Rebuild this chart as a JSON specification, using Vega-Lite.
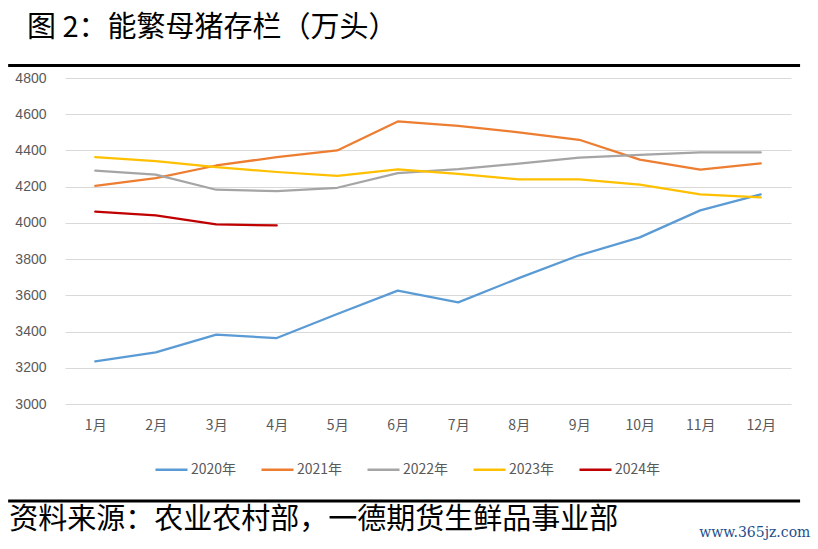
{
  "$schema": "https://vega.github.io/schema/vega-lite/v6.json",
  "width": 726,
  "height": 326,
  "autosize": {"type": "none"},
  "padding": {"left": 65, "top": 78, "right": 27, "bottom": 145},
  "background": "white",
  "title": {
    "text": "图 2：能繁母猪存栏（万头）",
    "anchor": "start",
    "frame": "group",
    "font": "Noto Sans CJK SC",
    "fontSize": 29,
    "fontWeight": "normal",
    "color": "#000000",
    "dx": -38,
    "offset": 21
  },
  "config": {
    "view": {"stroke": null},
    "font": "Noto Sans CJK SC"
  },
  "datasets": {
    "pigs": [
      {"month": 1, "year": "2020年", "value": 3235},
      {"month": 2, "year": "2020年", "value": 3285},
      {"month": 3, "year": "2020年", "value": 3383},
      {"month": 4, "year": "2020年", "value": 3364},
      {"month": 5, "year": "2020年", "value": 3497},
      {"month": 6, "year": "2020年", "value": 3626},
      {"month": 7, "year": "2020年", "value": 3561},
      {"month": 8, "year": "2020年", "value": 3695},
      {"month": 9, "year": "2020年", "value": 3821},
      {"month": 10, "year": "2020年", "value": 3920},
      {"month": 11, "year": "2020年", "value": 4069},
      {"month": 12, "year": "2020年", "value": 4157},
      {"month": 1, "year": "2021年", "value": 4205},
      {"month": 2, "year": "2021年", "value": 4247},
      {"month": 3, "year": "2021年", "value": 4317},
      {"month": 4, "year": "2021年", "value": 4363},
      {"month": 5, "year": "2021年", "value": 4400},
      {"month": 6, "year": "2021年", "value": 4560},
      {"month": 7, "year": "2021年", "value": 4536},
      {"month": 8, "year": "2021年", "value": 4500},
      {"month": 9, "year": "2021年", "value": 4459},
      {"month": 10, "year": "2021年", "value": 4349},
      {"month": 11, "year": "2021年", "value": 4294},
      {"month": 12, "year": "2021年", "value": 4328},
      {"month": 1, "year": "2022年", "value": 4288},
      {"month": 2, "year": "2022年", "value": 4266},
      {"month": 3, "year": "2022年", "value": 4183},
      {"month": 4, "year": "2022年", "value": 4176},
      {"month": 5, "year": "2022年", "value": 4194},
      {"month": 6, "year": "2022年", "value": 4275},
      {"month": 7, "year": "2022年", "value": 4297},
      {"month": 8, "year": "2022年", "value": 4327},
      {"month": 9, "year": "2022年", "value": 4360},
      {"month": 10, "year": "2022年", "value": 4376},
      {"month": 11, "year": "2022年", "value": 4389},
      {"month": 12, "year": "2022年", "value": 4389},
      {"month": 1, "year": "2023年", "value": 4363},
      {"month": 2, "year": "2023年", "value": 4341},
      {"month": 3, "year": "2023年", "value": 4308},
      {"month": 4, "year": "2023年", "value": 4281},
      {"month": 5, "year": "2023年", "value": 4259},
      {"month": 6, "year": "2023年", "value": 4295},
      {"month": 7, "year": "2023年", "value": 4270},
      {"month": 8, "year": "2023年", "value": 4240},
      {"month": 9, "year": "2023年", "value": 4240},
      {"month": 10, "year": "2023年", "value": 4211},
      {"month": 11, "year": "2023年", "value": 4157},
      {"month": 12, "year": "2023年", "value": 4141},
      {"month": 1, "year": "2024年", "value": 4062},
      {"month": 2, "year": "2024年", "value": 4041},
      {"month": 3, "year": "2024年", "value": 3992},
      {"month": 4, "year": "2024年", "value": 3986}
    ]
  },
  "layer": [
    {
      "data": {"name": "pigs"},
      "mark": {"type": "line", "strokeWidth": 2.25, "strokeJoin": "round", "strokeCap": "round"},
      "encoding": {
        "x": {
          "field": "month",
          "type": "quantitative",
          "scale": {"domain": [0.5, 12.5], "nice": false, "zero": false},
          "axis": {
            "values": [1, 2, 3, 4, 5, 6, 7, 8, 9, 10, 11, 12],
            "tickCount": 24,
            "labelExpr": "datum.value + '月'",
            "title": null,
            "grid": false,
            "domain": false,
            "ticks": false,
            "labelFont": "Noto Sans CJK SC",
            "labelFontSize": 14,
            "labelColor": "#595959",
            "labelPadding": 14
          }
        },
        "y": {
          "field": "value",
          "type": "quantitative",
          "scale": {"domain": [3000, 4800], "nice": false, "zero": false},
          "axis": {
            "values": [3000, 3200, 3400, 3600, 3800, 4000, 4200, 4400, 4600, 4800],
            "tickCount": 20,
            "labelOverlap": false,
            "format": "d",
            "title": null,
            "domain": false,
            "ticks": false,
            "gridColor": "#D9D9D9",
            "gridWidth": 1,
            "labelFont": "Liberation Sans",
            "labelFontSize": 14,
            "labelColor": "#595959",
            "labelPadding": 19
          }
        },
        "color": {
          "field": "year",
          "type": "nominal",
          "scale": {
            "domain": ["2020年", "2021年", "2022年", "2023年", "2024年"],
            "range": ["#5B9BD5", "#ED7D31", "#A5A5A5", "#FFC000", "#C00000"]
          },
          "legend": {
            "title": null,
            "orient": "none",
            "legendX": 89,
            "legendY": 374,
            "direction": "horizontal",
            "symbolType": "stroke",
            "symbolSize": 1024,
            "symbolStrokeWidth": 2.5,
            "labelFont": "Noto Sans CJK SC",
            "labelFontSize": 14,
            "labelColor": "#595959",
            "labelOffset": 2,
            "columnPadding": 19
          }
        }
      }
    },
    {
      "data": {"values": [{}]},
      "mark": {"type": "rule", "color": "#000000", "strokeWidth": 3},
      "encoding": {
        "x": {"datum": -0.44, "type": "quantitative"},
        "x2": {"datum": 12.65},
        "y": {"datum": 4869, "type": "quantitative"}
      }
    },
    {
      "data": {"values": [{}]},
      "mark": {"type": "rule", "color": "#000000", "strokeWidth": 3},
      "encoding": {
        "x": {"datum": -0.44, "type": "quantitative"},
        "x2": {"datum": 12.65},
        "y": {"datum": 2465, "type": "quantitative"}
      }
    },
    {
      "data": {"values": [{}]},
      "mark": {"type": "text", "align": "left", "baseline": "middle", "font": "Noto Sans CJK SC", "fontSize": 29, "color": "#000000"},
      "encoding": {
        "x": {"datum": -0.42, "type": "quantitative"},
        "y": {"datum": 2360, "type": "quantitative"},
        "text": {"value": "资料来源：农业农村部，一德期货生鲜品事业部"}
      }
    },
    {
      "data": {"values": [{}]},
      "mark": {"type": "text", "align": "right", "baseline": "middle", "font": "DejaVu Serif", "fontSize": 14, "color": "#1F4E8C"},
      "encoding": {
        "x": {"datum": 12.82, "type": "quantitative"},
        "y": {"datum": 2290, "type": "quantitative"},
        "text": {"value": "www.365jz.com"}
      }
    }
  ]
}
